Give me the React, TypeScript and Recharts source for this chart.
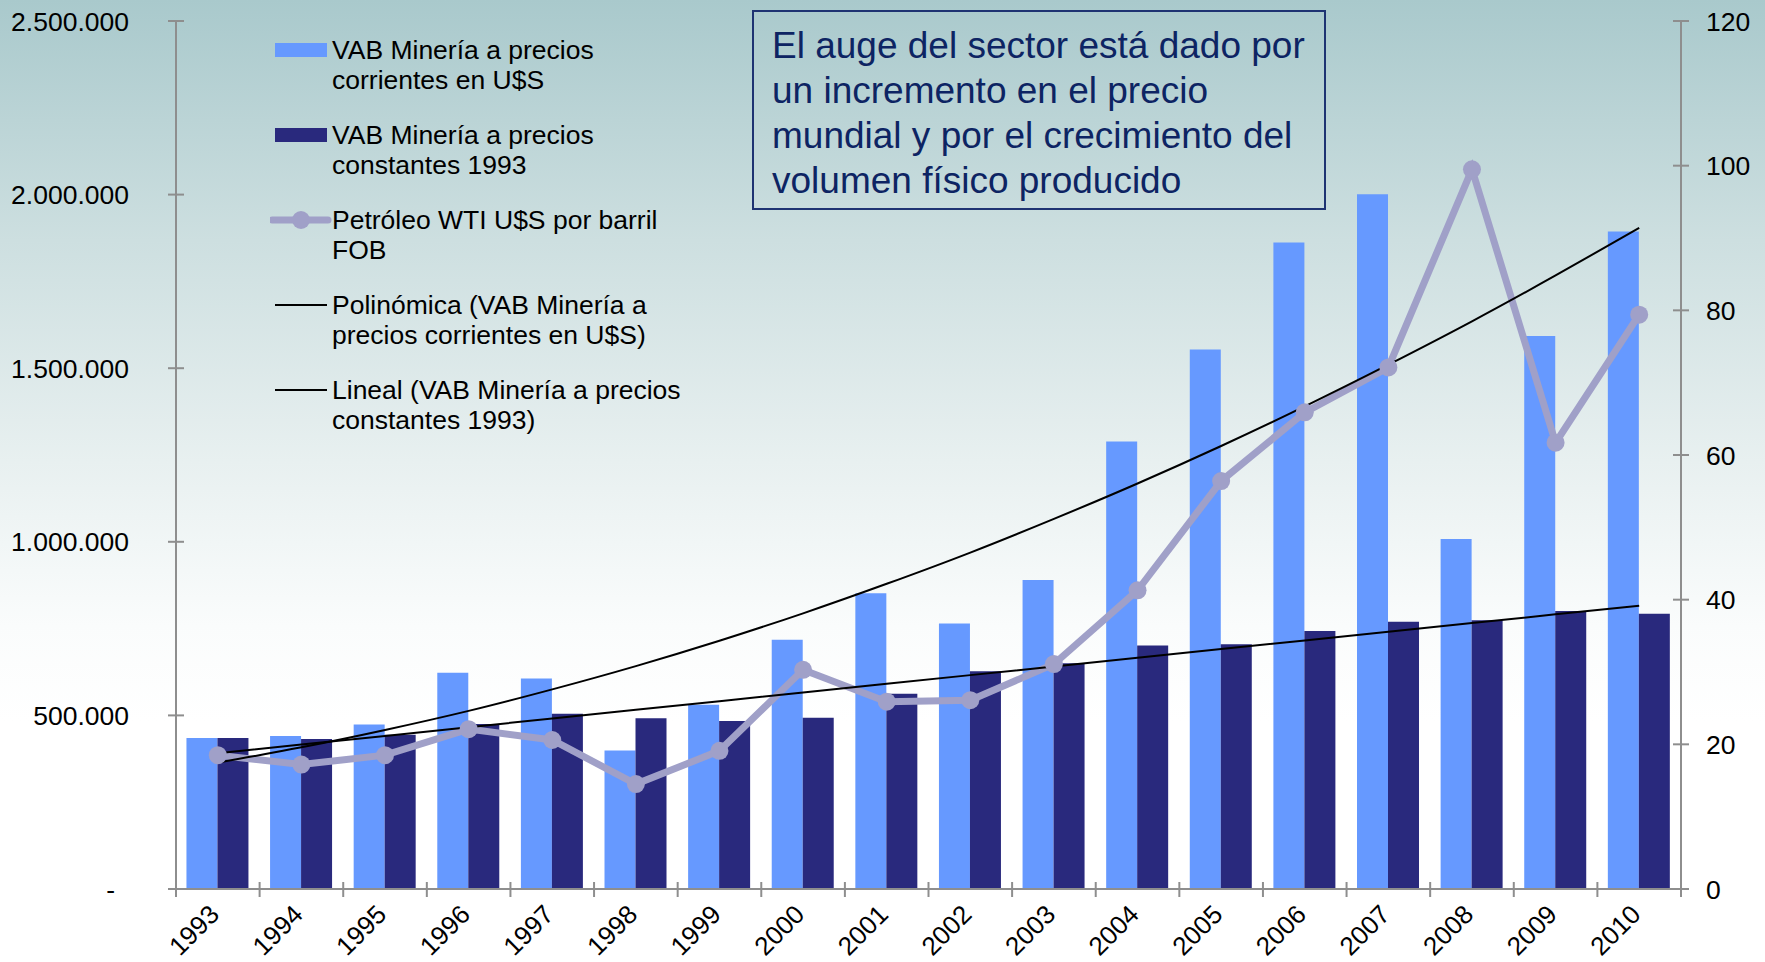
import React from 'react';
import { ComposedChart, Bar, Line, XAxis, YAxis, Legend } from 'recharts';

const years = ['1993', '1994', '1995', '1996', '1997', '1998', '1999', '2000', '2001', '2002', '2003', '2004', '2005', '2006', '2007', '2008', '2009', '2010'];
const vabCorrientes = [435000, 441000, 474000, 623000, 606000, 399000, 531000, 718000, 852000, 765000, 890000, 1289000, 1554000, 1862000, 2001000, 1008000, 1593000, 1894000];
const vabConstantes = [435000, 432000, 444000, 475000, 505000, 492000, 484000, 493000, 562000, 627000, 650000, 701000, 705000, 743000, 770000, 774000, 801000, 793000];
const petroleoWti = [18.5, 17.2, 18.5, 22.1, 20.6, 14.5, 19.1, 30.3, 25.9, 26.1, 31.1, 41.3, 56.4, 65.9, 72.1, 99.5, 61.7, 79.4];
// trend lines at each year
const polinomica = [364000, 408000, 458000, 513000, 575000, 642000, 715000, 794000, 879000, 969000, 1066000, 1168000, 1276000, 1390000, 1510000, 1635000, 1767000, 1904000];
const lineal = [391000, 416000, 441000, 466000, 491000, 516000, 541000, 566000, 591000, 616000, 641000, 666000, 691000, 716000, 741000, 766000, 791000, 816000];

const leftTicks = [0, 500000, 1000000, 1500000, 2000000, 2500000];
const rightTicks = [0, 20, 40, 60, 80, 100, 120];

const legendLabels = [
  ['VAB Minería a precios', 'corrientes en U$S'],
  ['VAB Minería a precios', 'constantes 1993'],
  ['Petróleo WTI U$S por barril', 'FOB'],
  ['Polinómica (VAB Minería a', 'precios corrientes en U$S)'],
  ['Lineal (VAB Minería a precios', 'constantes 1993)'],
];

const boxLines = [
  'El auge del sector está dado por',
  'un incremento en el precio',
  'mundial y por el crecimiento del',
  'volumen físico producido',
];

const data = years.map((year, i) => ({
  year,
  corrientes: vabCorrientes[i],
  constantes: vabConstantes[i],
  wti: petroleoWti[i],
  poli: polinomica[i],
  lineal: lineal[i],
}));

const FONT = '"Liberation Sans", Arial, sans-serif';
const LIGHT = '#6699FF';
const DARK = '#29297D';
const OIL = '#A0A0C8';
const AXIS = '#8E8E8E';

const fmtMiles = (v: number) => (v === 0 ? '-' : String(v).replace(/\B(?=(\d{3})+(?!\d))/g, '.'));

const LeftTick = (props: any) => {
  const { x, y, payload } = props;
  const zero = payload.value === 0;
  return (
    <g>
      <line x1={x - 8} x2={x + 8} y1={y} y2={y} stroke={AXIS} strokeWidth={2} />
      <text x={zero ? x - 61 : x - 47} y={y} dy="0.36em" textAnchor="end" fontSize={26.5} fontFamily={FONT} fill="#000">
        {fmtMiles(payload.value)}
      </text>
    </g>
  );
};

const RightTick = (props: any) => {
  const { x, y, payload } = props;
  return (
    <g>
      <line x1={x - 8} x2={x + 8} y1={y} y2={y} stroke={AXIS} strokeWidth={2} />
      <text x={x + 25} y={y} dy="0.36em" textAnchor="start" fontSize={26.5} fontFamily={FONT} fill="#000">
        {payload.value}
      </text>
    </g>
  );
};

const YearTick = (props: any) => {
  const { x, y, payload, index } = props;
  const off = payload.offset || 41.8;
  const last = index === years.length - 1;
  const tx = x + 3;
  const ty = y + 27;
  return (
    <g>
      <line x1={x - off} x2={x - off} y1={y - 7} y2={y + 8} stroke={AXIS} strokeWidth={2} />
      {last && <line x1={x + off} x2={x + off} y1={y - 7} y2={y + 8} stroke={AXIS} strokeWidth={2} />}
      <text x={tx} y={ty} textAnchor="end" fontSize={26} fontFamily={FONT} fill="#000" transform={`rotate(-45, ${tx}, ${ty})`}>
        {payload.value}
      </text>
    </g>
  );
};

const legendIcon = (i: number) => {
  if (i === 0) return <rect x={5} y={8} width={52} height={14} fill={LIGHT} />;
  if (i === 1) return <rect x={5} y={8} width={52} height={14} fill={DARK} />;
  if (i === 2)
    return (
      <g>
        <line x1={2} x2={58} y1={15} y2={15} stroke={OIL} strokeWidth={7} strokeLinecap="round" />
        <circle cx={31} cy={15} r={9} fill={OIL} />
      </g>
    );
  return <line x1={5} x2={57} y1={15} y2={15} stroke="#000" strokeWidth={2} />;
};

const renderLegend = () => (
  <div style={{ position: 'relative', width: 720, height: 460, fontFamily: FONT }}>
    {legendLabels.map((lines, i) => (
      <div key={i} style={{ position: 'absolute', left: 0, top: 35 + 85 * i, width: 720, height: 60 }}>
        <svg width={62} height={30} style={{ position: 'absolute', left: 270, top: 0 }}>
          {legendIcon(i)}
        </svg>
        <div style={{ position: 'absolute', left: 332, top: 0, fontSize: 26.5, lineHeight: '30px', color: '#000', whiteSpace: 'nowrap' }}>
          {lines[0]}
          <br />
          {lines[1]}
        </div>
      </div>
    ))}
  </div>
);

export default function App() {
  return (
    <div
      style={{
        position: 'absolute',
        left: 0,
        top: 0,
        width: 1765,
        height: 962,
        overflow: 'hidden',
        fontFamily: FONT,
        background: 'linear-gradient(to bottom, #A9C9CC 0%, #CDDFE0 25%, #E8F0F0 48%, #FAFCFC 65%, #FFFFFF 75%, #FFFFFF 100%)',
      }}
    >
      <ComposedChart width={1765} height={962} data={data} margin={{ top: 21, right: 0, bottom: 0, left: 0 }} barCategoryGap="12.5%" barGap={0}>
        <XAxis
          dataKey="year"
          xAxisId={0}
          height={73}
          interval={0}
          tickSize={0}
          tickMargin={0}
          tickLine={false}
          axisLine={{ stroke: AXIS, strokeWidth: 2 }}
          tick={<YearTick />}
        />
        <YAxis
          yAxisId="left"
          orientation="left"
          width={176}
          domain={[0, 2500000]}
          ticks={leftTicks}
          interval={0}
          tickSize={0}
          tickMargin={0}
          tickLine={false}
          axisLine={{ stroke: AXIS, strokeWidth: 2 }}
          tick={<LeftTick />}
        />
        <YAxis
          yAxisId="right"
          orientation="right"
          width={84}
          domain={[0, 120]}
          ticks={rightTicks}
          interval={0}
          tickSize={0}
          tickMargin={0}
          tickLine={false}
          axisLine={{ stroke: AXIS, strokeWidth: 2 }}
          tick={<RightTick />}
        />
        <Legend layout="vertical" align="center" verticalAlign="middle" content={renderLegend} wrapperStyle={{ left: 0, top: 0, width: 720, height: 460 }} />
        <Bar yAxisId="left" dataKey="corrientes" fill={LIGHT} isAnimationActive={false} />
        <Bar yAxisId="left" dataKey="constantes" fill={DARK} isAnimationActive={false} />
        <Line
          yAxisId="right"
          type="linear"
          dataKey="wti"
          stroke={OIL}
          strokeWidth={7}
          dot={{ r: 9, fill: OIL, stroke: OIL, strokeWidth: 0 }}
          activeDot={false}
          isAnimationActive={false}
        />
        <Line yAxisId="left" type="monotone" dataKey="poli" stroke="#000" strokeWidth={2} dot={false} activeDot={false} isAnimationActive={false} />
        <Line yAxisId="left" type="linear" dataKey="lineal" stroke="#000" strokeWidth={2} dot={false} activeDot={false} isAnimationActive={false} />
      </ComposedChart>
      <div
        style={{
          position: 'absolute',
          left: 752,
          top: 10,
          width: 574,
          height: 200,
          boxSizing: 'border-box',
          border: '2px solid #1E3372',
          padding: '11px 0 0 18px',
          color: '#0D2463',
          fontSize: 37,
          lineHeight: '45px',
          whiteSpace: 'nowrap',
        }}
      >
        {boxLines.map((l, i) => (
          <div key={i}>{l}</div>
        ))}
      </div>
    </div>
  );
}
